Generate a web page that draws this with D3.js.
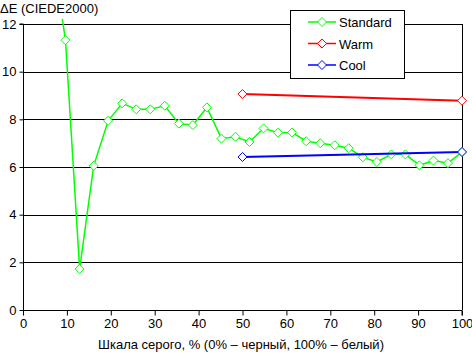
<!DOCTYPE html>
<html>
<head>
<meta charset="utf-8">
<script src="https://cdn.jsdelivr.net/npm/d3@7"></script>
<style>
  body { margin: 0; background: #fff; }
  svg text { font-family: Arial, "Liberation Sans", sans-serif; font-size: 13px; fill: #000; }
</style>
</head>
<body>
<div id="container"></div>
<script>
/* DATA */
const standardX = [6.45, 9.68, 12.9, 16.1, 19.4, 22.6, 25.8, 29.0, 32.3, 35.5, 38.7, 41.9, 45.2, 48.4,
  51.6, 54.8, 58.1, 61.3, 64.5, 67.7, 71.0, 74.2, 77.4, 80.6, 83.9, 87.1, 90.3, 93.5, 96.8, 100]
const standardY = [15.3, 11.32, 1.72, 6.05, 7.94, 8.67, 8.42, 8.42, 8.57, 7.82, 7.76, 8.5, 7.19, 7.27,
  7.05, 7.62, 7.44, 7.45, 7.08, 7.0, 6.91, 6.79, 6.41, 6.21, 6.53, 6.53, 6.07, 6.27, 6.16, 6.63]
const warmX = [50, 100]
const warmY = [9.06, 8.78]
const coolX = [50, 100]
const coolY = [6.42, 6.63]
const seriesNames = ["Standard", "Warm", "Cool"]
const seriesColors = ["#00ff00", "#ff0000", "#0000ff"]
const xTicks = [0, 10, 20, 30, 40, 50, 60, 70, 80, 90, 100]
const yTicks = [0, 2, 4, 6, 8, 10, 12]

/* CONSTANTS */
const width = 472, height = 353
const margin = { top: 24, bottom: 43, left: 23, right: 10 }

const svg = d3.select("#container")
  .append("svg")
  .attr("width", width)
  .attr("height", height)

// SCALES
const xScale = d3.scaleLinear()
  .domain([0, 100])
  .range([margin.left, width - margin.right])

const yScale = d3.scaleLinear()
  .domain([0, 12])
  .range([height - margin.bottom, margin.top])

// GRIDLINES
svg.append("g")
  .selectAll("line")
  .data(yTicks.filter(d => d > 0))
  .join("line")
  .attr("x1", xScale(0))
  .attr("x2", xScale(100))
  .attr("y1", d => Math.round(yScale(d)) + 0.5)
  .attr("y2", d => Math.round(yScale(d)) + 0.5)
  .attr("stroke", "#000")

// right border
svg.append("line")
  .attr("x1", Math.round(xScale(100)) + 0.5)
  .attr("x2", Math.round(xScale(100)) + 0.5)
  .attr("y1", yScale(12))
  .attr("y2", yScale(0))
  .attr("stroke", "#000")

// AXES
const xAxis = d3.axisBottom(xScale).tickValues(xTicks).tickSize(5).tickPadding(3)
const xAxisGroup = svg.append("g")
  .attr("transform", `translate(0, ${Math.round(yScale(0)) + 0.5})`)
  .call(xAxis)

const yAxis = d3.axisLeft(yScale).tickValues(yTicks).tickSize(4).tickPadding(3)
const yAxisGroup = svg.append("g")
  .attr("transform", `translate(${Math.round(xScale(0)) + 0.5}, 0)`)
  .call(yAxis)

svg.selectAll(".domain").attr("stroke", "#000")
svg.selectAll(".tick line").attr("stroke", "#000")
svg.selectAll(".tick text").style("font-size", "13px").attr("fill", "#000")
  .style("font-family", "Arial, 'Liberation Sans', sans-serif")
yAxisGroup.selectAll(".domain").attr("d", `M-4,${yScale(12)}H0V${yScale(0)}`)
xAxisGroup.selectAll(".domain").attr("d", `M${xScale(0)},0H${xScale(100)}V5`)

// CLIP
svg.append("clipPath")
  .attr("id", "clip")
  .append("rect")
  .attr("x", 0)
  .attr("y", 19)
  .attr("width", width)
  .attr("height", height)

// SERIES
const series = [
  { xs: standardX, ys: standardY, w: 1.5 },
  { xs: warmX, ys: warmY, w: 2 },
  { xs: coolX, ys: coolY, w: 2 }
]

const lineGen = d3.line()
  .x(d => xScale(d[0]))
  .y(d => yScale(d[1]))

const diamond = "M0,-4.5L4.5,0L0,4.5L-4.5,0Z"

series.forEach((s, i) => {
  const pts = s.xs.map((x, j) => [x, s.ys[j]])
  const g = svg.append("g").attr("clip-path", "url(#clip)")
  g.append("path")
    .datum(pts)
    .attr("d", lineGen)
    .attr("fill", "none")
    .attr("stroke", seriesColors[i])
    .attr("stroke-width", s.w)
  g.selectAll("path.m")
    .data(pts)
    .join("path")
    .attr("class", "m")
    .attr("d", diamond)
    .attr("transform", d => `translate(${xScale(d[0])},${yScale(d[1])})`)
    .attr("fill", "#fff")
    .attr("stroke", seriesColors[i])
    .attr("stroke-width", 1)
})

// LEGEND
const legend = svg.append("g")
legend.append("rect")
  .attr("x", 290.5)
  .attr("y", 10.5)
  .attr("width", 114)
  .attr("height", 68)
  .attr("fill", "#fff")
  .attr("stroke", "#000")

seriesNames.forEach((name, i) => {
  const y = 22 + i * 21.5
  legend.append("line")
    .attr("x1", 308).attr("x2", 336)
    .attr("y1", y).attr("y2", y)
    .attr("stroke", seriesColors[i])
    .attr("stroke-width", 1.5)
  legend.append("path")
    .attr("d", diamond)
    .attr("transform", `translate(322,${y})`)
    .attr("fill", "#fff")
    .attr("stroke", seriesColors[i])
  legend.append("text")
    .attr("x", 339)
    .attr("y", y + 5)
    .text(name)
})

// AXIS TITLES
svg.append("text")
  .attr("x", 0)
  .attr("y", 13)
  .text("ΔE (CIEDE2000)")

svg.append("text")
  .attr("text-anchor", "middle")
  .attr("x", 241)
  .attr("y", 349)
  .text("Шкала серого, % (0% – черный, 100% – белый)")
</script>
</body>
</html>
